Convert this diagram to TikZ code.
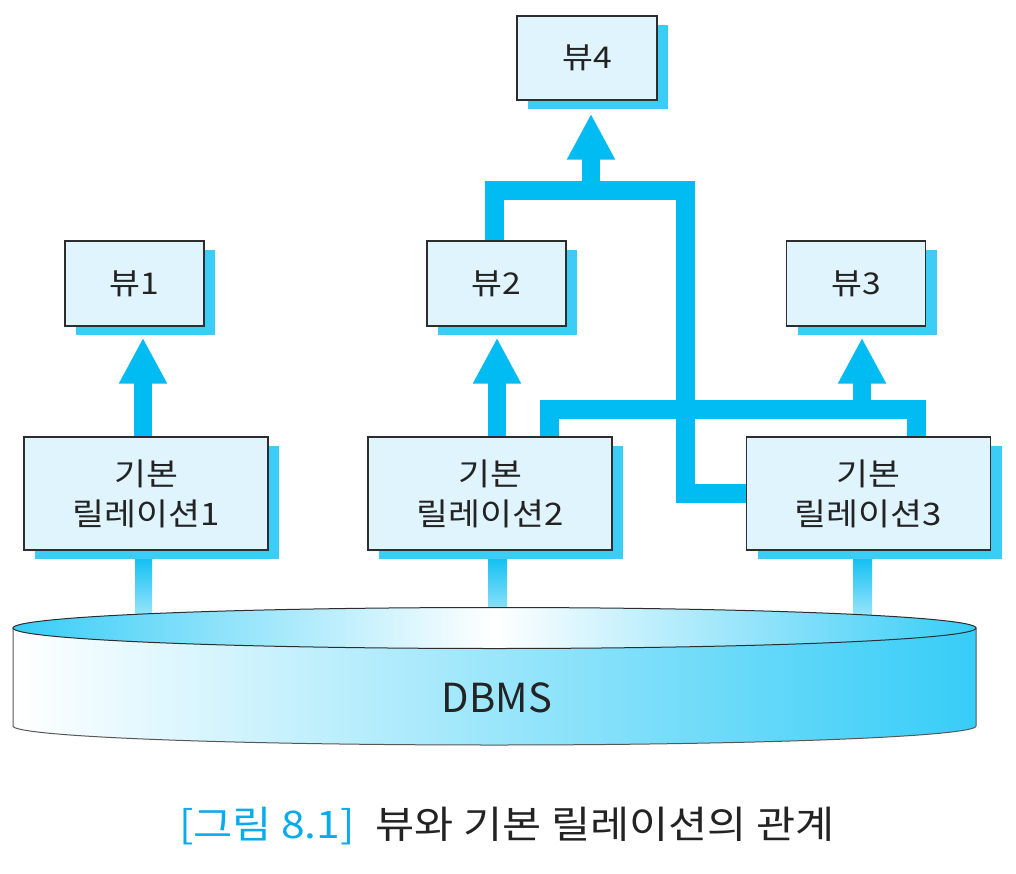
\documentclass[tikz,border=0pt]{standalone}
\usepackage{fontspec}
\setmainfont{Noto Sans CJK KR}
\newfontfamily\widefont[FakeStretch=1.12]{Noto Sans CJK KR}
\usetikzlibrary{arrows.meta,shadows,calc}
\definecolor{cyanc}{RGB}{0,188,242}
\definecolor{shadowc}{RGB}{60,205,247}
\definecolor{boxfill}{RGB}{224,244,253}
\definecolor{boxline}{RGB}{45,45,45}
\definecolor{txt}{RGB}{35,35,35}
\definecolor{cylc}{RGB}{55,205,247}
\definecolor{capc}{RGB}{10,170,235}
\pgfdeclarelayer{background}
\pgfsetlayers{background,main}
\begin{document}
\begin{tikzpicture}[x=1pt,y=-1pt,
  box/.style={draw=boxline, line width=1.4pt, fill=boxfill, inner sep=0pt, text=txt,
    drop shadow={opacity=1, fill=shadowc, shadow xshift=11pt, shadow yshift=-9pt}},
  viewbox/.style={box, minimum width=139pt, minimum height=85pt, font=\widefont\fontsize{30}{34}\selectfont},
  relbox/.style={box, minimum width=244pt, minimum height=113pt, align=center, font=\widefont\fontsize{31}{40}\selectfont},
  link/.style={draw=cyanc, line width=19pt, line join=miter},
  arr/.style={draw=cyanc, line width=18pt, -{Triangle[length=46pt, width=45pt]}},
  stub/.style={top color=cyanc, bottom color=cyanc!30},
]
\useasboundingbox (0,0) rectangle (1016,874);

% boxes
\node[viewbox] (v1) at (134.5,283.5) {뷰1};
\node[viewbox] (v2) at (496.5,283.5) {뷰2};
\node[viewbox] (v3) at (856,283.5) {뷰3};
\node[viewbox, minimum width=140pt, minimum height=84pt] (v4) at (587,58) {뷰4};
\node[relbox] (r1) at (146,493.5) {기본\\릴레이션1};
\node[relbox] (r2) at (490,493.5) {기본\\릴레이션2};
\node[relbox] (r3) at (868.5,493.5) {기본\\릴레이션3};

% junction points
\coordinate (k1) at (685,190.5);
\coordinate (k2) at (916.5,409);
\coordinate (a4) at (591,190.5);
\coordinate (a3) at (862,409);
\coordinate (a1) at ([xshift=-3pt]r1.north);
\coordinate (a2) at ([xshift=7pt]r2.north);

\begin{pgfonlayer}{background}
  % stubs to DBMS
  \shade[stub] ($(r1.south)+(-11,0)$) rectangle ($(r1.south)+(6,75)$);
  \shade[stub] ($(r2.south)+(-2,0)$) rectangle ($(r2.south)+(17,75)$);
  \shade[stub] ($(r3.south)+(-15.5,0)$) rectangle ($(r3.south)+(3.5,75)$);
  % connectors
  \draw[link] ([xshift=-2pt]v2.north) |- (k1) |- (r3.west);
  \draw[link] ([xshift=59.5pt]r2.north) |- (k2) -- (k2 |- r3.north);
  \draw[arr, shorten >=13pt] (a4) -- (a4 |- v4.south);
  \draw[arr, shorten >=11pt] (a3) -- (a3 |- v3.south);
  \draw[arr, shorten >=11pt] (a1) -- (a1 |- v1.south);
  \draw[arr, shorten >=11pt] (a2) -- (a2 |- v2.south);
\end{pgfonlayer}

% DBMS cylinder
\shade[left color=white, right color=cylc, draw=boxline!80, line width=1pt]
  (13,628) -- (13,726) arc[start angle=180, end angle=0, x radius=481.5, y radius=19] -- (976,628) -- cycle;
\shade[left color=cylc, right color=cylc, middle color=white, draw=boxline, line width=1pt]
  (494.5,628) ellipse[x radius=481.5, y radius=20.5];
\node[font=\fontsize{40}{42}\selectfont, text=txt] (db) at (497,698) {DBMS};

% caption
\node[font=\widefont\fontsize{38}{40}\selectfont, text=txt] (cap) at (507,826)
  {\textcolor{capc}{[그림 8.1]}\hspace{0.55em}뷰와 기본 릴레이션의 관계};
\end{tikzpicture}
\end{document}
